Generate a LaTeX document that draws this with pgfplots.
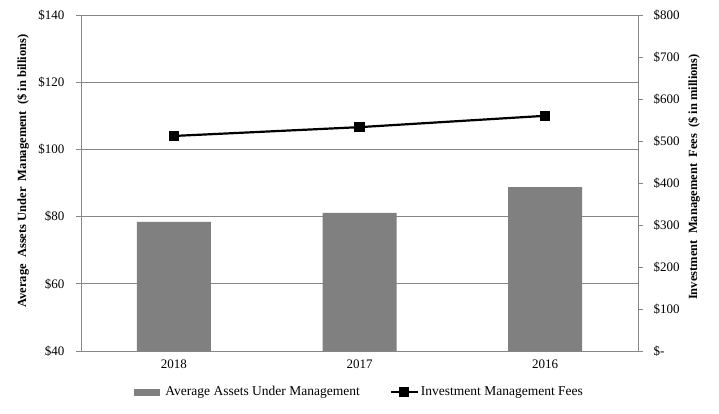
\documentclass[border=0pt]{standalone}
\usepackage{fontspec}
\setmainfont{Liberation Serif}
\usepackage{pgfplots}
\pgfplotsset{compat=1.18}
\definecolor{bargray}{RGB}{128,128,128}
\definecolor{axgray}{RGB}{134,134,134}
\pgfplotsset{linelegend/.style={legend image code/.code={\draw[mark repeat=2,mark phase=2,##1] plot coordinates {(0pt,0pt) (13.5pt,0pt) (27pt,0pt)};}}}
\begin{document}
\begin{tikzpicture}
\path[use as bounding box] (-81pt,-62pt) rectangle (638pt,351pt);
\pgfplotsset{common/.style={
 scale only axis, width=557pt, height=336pt, at={(0pt,0pt)}, anchor=south west,
 xmin=-0.5, xmax=2.5, tick align=outside, major tick length=5pt,
 tick style={axgray, line width=0.8pt},
 axis line style={axgray, line width=0.8pt},
 tick label style={font=\fontsize{13}{15}\selectfont},
}}
\begin{axis}[common,
 axis x line*=bottom, axis y line*=left,
 ymin=40, ymax=140, ytick={40,60,...,140},
 yticklabels={\$40,\$60,\$80,\$100,\$120,\$140},
 yticklabel style={xshift=-8pt},
 xtick={0,1,2}, xticklabels={2018,2017,2016}, x tick style={draw=none},
 ymajorgrids, grid style={axgray, line width=0.8pt},
 ylabel={Average\ \ Assets Under\ \ Management\ \ (\$ in billions)},
 every axis y label/.style={at={(rel axis cs:0,0.5)}, xshift=-58pt, yshift=12pt, rotate=90, anchor=center, font=\fontsize{12.5}{14}\selectfont\bfseries},
 ybar, bar width=74pt,
]
\addplot[fill=bargray, draw=none] coordinates {(0,78.4) (1,81.1) (2,88.8)};
\end{axis}
\begin{axis}[common,
 axis x line=none, axis y line*=right,
 ymin=0, ymax=800, ytick={0,100,...,800},
 yticklabels={\$-,\$100,\$200,\$300,\$400,\$500,\$600,\$700,\$800},
 yticklabel style={xshift=7pt},
 ylabel={Investment\ \ Management\ \ Fees\ \ (\$ in millions)},
 every axis y label/.style={at={(rel axis cs:1,0.5)}, xshift=56pt, yshift=6pt, rotate=90, anchor=center, font=\fontsize{12.5}{14}\selectfont\bfseries},
 legend style={at={(0.5,-0.122)}, anchor=center, legend columns=2, draw=none, fill=none, font=\fontsize{13.5}{15}\selectfont,
   /tikz/column 2/.style={column sep=28pt}},
]
\addlegendimage{legend image code/.code={\fill[bargray] (0pt,-3pt) rectangle (25pt,3pt); \path (29pt,0pt);}}
\addlegendentry{Average Assets Under Management}
\addplot[black, line width=2.2pt, mark=square*, mark size=4pt, mark options={solid}, linelegend]
 coordinates {(0,512) (1,533) (2,560)};
\addlegendentry{Investment Management Fees}
\end{axis}
\end{tikzpicture}
\end{document}
